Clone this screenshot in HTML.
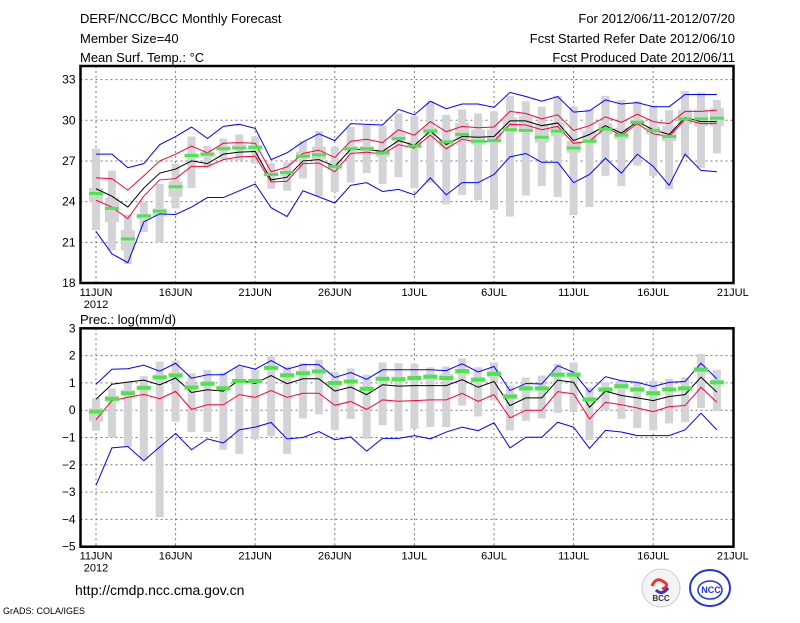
<!DOCTYPE html>
<html><head><meta charset="utf-8"><style>
body{margin:0;background:#fff;}
svg text{font-family:"Liberation Sans",sans-serif;fill:#000;}
</style></head><body>
<svg id="c" width="800" height="618" xmlns="http://www.w3.org/2000/svg">
<rect width="800" height="618" fill="#fff"/>
<text x="80" y="23" font-size="13">DERF/NCC/BCC Monthly Forecast</text>
<text x="80" y="43" font-size="13">Member Size=40</text>
<text x="80" y="62" font-size="13">Mean Surf. Temp.: °C</text>
<text x="735" y="23" font-size="13" text-anchor="end">For 2012/06/11-2012/07/20</text>
<text x="735" y="43" font-size="13" text-anchor="end">Fcst Started Refer Date 2012/06/10</text>
<text x="735" y="62" font-size="13" text-anchor="end">Fcst Produced Date 2012/06/11</text>
<text x="80" y="324" font-size="13">Prec.: log(mm/d)</text>
<text x="75" y="595" font-size="14">http://cmdp.ncc.cma.gov.cn</text>
<text x="3" y="614" font-size="9">GrADS: COLA/IGES</text>
<g>
<circle cx="661" cy="588" r="19" fill="#f4f4f4" stroke="#ccc"/>
<path d="M652 586 q4 -10 12 -4 q6 4 -2 7" stroke="#e33" stroke-width="3" fill="none"/>
<path d="M656 590 q6 6 12 -2" stroke="#33c" stroke-width="3" fill="none"/>
<text x="661" y="601" font-size="8" text-anchor="middle" font-weight="bold" style="fill:#334">BCC</text>
</g>
<g>
<ellipse cx="710" cy="588" rx="20" ry="18" fill="#fff" stroke="#2233dd" stroke-width="2"/>
<ellipse cx="710" cy="590" rx="12" ry="9" fill="none" stroke="#2233dd" stroke-width="1.5"/>
<text x="711" y="593" font-size="9" text-anchor="middle" font-weight="bold" style="fill:#2233dd">NCC</text>
</g>
</svg>
<script>
// ---- temperature panel data (day 0 = 11 Jun)
const tBlueHi=[27.5,27.5,26.5,26.8,28.2,28.8,29.5,28.65,29.55,29.7,29.4,27.1,27.6,28.4,29.0,28.5,29.75,29.7,29.65,30.8,30.4,31.4,30.85,31.2,31.2,30.95,32.05,31.75,31.4,31.75,30.6,30.7,31.5,31.2,31.3,31.0,31.0,31.9,31.9,31.9];
const tRedHi=[25.75,25.7,24.85,25.9,27.0,27.5,28.1,27.6,28.3,28.35,28.3,26.2,26.55,27.55,27.8,27.25,28.45,28.6,28.35,29.3,28.9,29.9,29.15,29.55,29.45,29.5,30.65,30.5,30.1,30.4,29.25,29.6,30.25,29.85,30.45,29.9,29.75,30.65,30.65,30.75];
const tMean=[24.95,24.4,23.6,25.0,26.1,26.4,27.0,26.8,27.5,27.65,27.7,25.6,25.8,27.0,27.1,26.6,27.85,27.85,27.7,28.5,28.15,29.2,28.2,28.8,28.75,28.8,29.95,29.95,29.6,29.8,28.5,28.95,29.6,29.05,29.9,29.3,28.95,30.2,29.9,29.9];
const tRedLo=[24.1,23.6,22.75,24.4,25.6,25.7,26.6,26.6,27.1,27.3,27.35,25.45,25.5,26.8,26.85,26.2,27.55,27.65,27.5,28.2,27.95,28.9,27.9,28.6,28.4,28.45,29.7,29.65,29.3,29.55,28.3,28.45,29.45,28.9,29.75,29.0,28.8,30.05,29.75,29.75];
const tBlueLo=[21.8,20.15,19.5,22.5,23.1,23.05,23.6,24.3,24.3,24.8,25.3,23.55,22.9,24.8,24.35,23.9,25.2,25.4,24.75,24.9,24.5,25.75,24.5,25.4,25.4,26.0,27.3,27.55,26.9,26.9,25.4,26.0,27.2,26.1,27.5,26.6,25.2,27.5,26.3,26.2];
const tBarMax=[27.9,26.3,23.05,24.0,25.3,26.8,28.8,28.1,28.65,28.95,28.8,26.85,26.9,28.45,29.2,28.05,29.5,29.6,29.6,30.5,30.3,31.4,30.4,30.8,30.5,30.65,31.8,31.4,31.0,31.8,31.0,30.8,31.8,31.5,31.4,31.1,30.75,32.15,32.05,31.5];
const tBarMin=[21.9,20.4,19.4,21.75,21.0,23.5,25.0,26.5,27.1,27.05,26.8,24.95,24.8,25.7,24.4,24.7,25.4,26.1,25.3,25.8,25.0,25.4,23.8,24.5,24.1,23.4,22.9,24.45,25.15,24.35,23.0,23.6,25.9,25.15,26.65,25.9,24.9,27.25,26.5,27.55];
const tBoxHi=[25.0,24.3,21.9,23.1,23.5,25.5,27.55,27.65,28.1,28.2,28.15,26.2,26.2,27.7,28.05,26.9,28.1,28.1,27.85,29.1,28.45,29.45,28.6,29.8,29.3,29.3,30.2,30.3,29.7,29.8,28.45,29.2,29.8,29.45,30.05,29.55,29.55,30.8,30.8,30.9];
const tBoxLo=[24.0,22.5,20.4,22.7,22.9,24.35,27.2,27.3,27.8,27.85,27.85,25.9,25.9,27.2,27.1,26.35,27.7,27.7,27.3,28.45,27.95,28.95,28.05,28.6,28.2,28.35,29.25,29.2,28.35,28.8,27.6,28.35,28.95,28.6,29.7,28.95,28.45,29.7,29.55,29.55];
const tObs=[24.6,23.5,21.25,22.95,23.3,25.1,27.4,27.5,27.9,27.95,28.0,26.0,26.15,27.35,27.45,26.6,27.9,27.9,27.6,28.65,28.1,29.2,28.4,28.95,28.45,28.5,29.3,29.25,28.75,29.2,27.95,28.45,29.35,28.9,29.85,29.25,28.8,30.1,30.1,30.15];
// ---- precipitation panel data
const pBlueHi=[0.95,1.5,1.52,1.65,1.43,1.72,1.17,1.3,1.3,1.65,1.5,1.82,1.5,1.67,1.67,1.2,1.38,1.13,1.48,1.48,1.48,1.48,1.45,1.7,1.4,1.6,0.72,0.98,0.96,1.63,1.39,0.66,1.23,1.08,1.02,0.87,1.02,1.05,1.72,1.15];
const pMean=[0.4,0.95,1.03,1.1,0.93,1.18,0.65,0.75,0.7,1.1,0.98,1.27,0.97,1.15,1.15,0.7,0.85,0.57,0.93,0.88,0.9,0.9,0.9,1.12,0.84,1.05,0.17,0.45,0.45,1.1,1.02,0.11,0.7,0.54,0.45,0.35,0.5,0.57,1.21,0.66];
const pRed=[-0.35,0.35,0.47,0.58,0.42,0.69,0.03,0.2,0.2,0.57,0.47,0.72,0.47,0.62,0.62,0.18,0.32,0.03,0.38,0.33,0.35,0.38,0.38,0.62,0.32,0.57,-0.28,0.0,0.0,0.68,0.6,-0.32,0.29,0.2,0.08,-0.05,0.13,0.17,0.84,0.29];
const pBlueLo=[-2.75,-1.38,-1.33,-1.85,-1.35,-0.85,-1.45,-1.05,-1.2,-0.72,-0.62,-0.45,-1.05,-1.0,-0.78,-1.08,-0.98,-1.5,-1.03,-1.03,-0.93,-1.05,-0.8,-0.62,-0.75,-0.46,-1.38,-0.99,-0.99,-0.44,-0.62,-1.4,-0.74,-0.8,-0.93,-0.93,-0.93,-0.72,-0.11,-0.72];
const pBarMax=[0.45,0.8,1.05,1.25,1.78,1.82,1.35,1.47,1.38,1.6,1.47,1.97,1.6,1.72,1.85,1.4,1.53,1.3,1.75,1.72,1.7,1.57,1.6,1.9,1.57,1.75,0.9,1.2,1.27,1.7,1.75,0.84,1.02,1.08,1.02,1.08,1.15,1.2,2.06,1.48];
const pBarMin=[-0.75,-1.0,-1.35,-1.8,-3.92,-0.42,-0.8,-0.8,-1.45,-1.6,-1.07,-0.95,-1.6,-0.3,-0.15,-0.72,-0.32,-1.05,-0.55,-0.77,-0.68,-0.62,-0.62,0.17,-0.23,0.35,-0.74,-0.39,-0.3,-0.1,-0.07,-1.09,0.0,-0.32,-0.65,-0.74,-0.48,-0.44,0.08,-0.04];
const pBoxHi=[0.07,0.52,0.74,0.9,1.3,1.38,0.95,1.05,0.9,1.13,1.13,1.62,1.35,1.45,1.5,1.07,1.13,0.87,1.23,1.23,1.27,1.3,1.33,1.51,1.2,1.43,0.6,0.87,0.87,1.39,1.39,0.48,0.84,0.96,0.84,0.7,0.84,0.87,1.57,1.09];
const pBoxLo=[-0.42,0.33,0.55,0.75,1.13,1.2,0.77,0.9,0.75,0.98,0.98,1.47,1.2,1.3,1.35,0.92,0.98,0.7,1.08,1.08,1.08,1.1,1.1,1.33,1.02,1.2,0.41,0.72,0.72,1.23,1.23,0.33,0.66,0.78,0.66,0.54,0.7,0.7,1.39,0.94];
const pObs=[-0.05,0.42,0.62,0.82,1.2,1.27,0.83,0.97,0.8,1.07,1.07,1.55,1.28,1.35,1.42,1.0,1.05,0.78,1.15,1.13,1.18,1.23,1.18,1.43,1.12,1.33,0.5,0.8,0.8,1.3,1.3,0.39,0.76,0.88,0.76,0.62,0.76,0.8,1.49,1.02];
const xTickLabels=["11JUN","16JUN","21JUN","26JUN","1JUL","6JUL","11JUL","16JUL","21JUL"];
const tTicks=[18,21,24,27,30,33];
const pTicks=[-5,-4,-3,-2,-1,0,1,2,3];

const NS="http://www.w3.org/2000/svg";
const svg=document.getElementById('c');
const L=80.5,R=733.5;
const xs=d=>96+15.92*d;
function mk(tag,at,parent){const e=document.createElementNS(NS,tag);for(const k in at)e.setAttribute(k,at[k]);(parent||svg).appendChild(e);return e;}

function panel(name,top,bot,vmin,vmax,ticks,bands,lines,obsH){
  const ys=v=>bot-(v-vmin)*(bot-top)/(vmax-vmin);
  const g=mk('g',{});
  
  
  // grid
  ticks.forEach(t=>{
    if(t>vmin&&t<vmax){const l=mk('line',{x1:L,x2:R,y1:ys(t),y2:ys(t),stroke:'#777','stroke-dasharray':'2,3','stroke-width':1},g);
    
    }
    const tx=mk('text',{x:L-5,y:ys(t)+4,'font-size':12,'text-anchor':'end'},g);tx.textContent=String(t).replace('-','−');
    
    
  });
  xTickLabels.forEach((s,i)=>{
    const x=xs(i*5);
    if(i<8){const l=mk('line',{x1:x,x2:x,y1:top,y2:bot,stroke:'#777','stroke-dasharray':'2,3','stroke-width':1},g);
    
    }
    const tx=mk('text',{x:x,y:bot+13,'font-size':11,'text-anchor':'middle'},g);tx.textContent=s;
    
    
  });
  const yr=mk('text',{x:xs(0),y:bot+25,'font-size':11,'text-anchor':'middle'},g);yr.textContent='2012';
  
  
  // bars
  for(let d=0;d<bands.mx.length;d++){
    const x=xs(d);
    const b=mk('rect',{x:x-4,y:ys(bands.mx[d]),width:8,height:ys(bands.mn[d])-ys(bands.mx[d]),fill:'#d4d4d8'},g);
    
    
    const bx=mk('rect',{x:x-7,y:ys(bands.bh[d]),width:14,height:ys(bands.bl[d])-ys(bands.bh[d]),fill:'#d4d4d8'},g);
    
    
  }
  lines.forEach(([arr,col,nm])=>{
    const p=mk('polyline',{points:arr.map((v,d)=>xs(d)+','+ys(v)).join(' '),fill:'none',stroke:col,'stroke-width':1},g);
    
    
  });
  bands.ob.forEach((v,d)=>{
    const r=mk('rect',{x:xs(d)-7,y:ys(v)-obsH/2,width:14,height:obsH,fill:'#4ce64c'},g);
    
    
  });
  const f=mk('rect',{x:L,y:top,width:R-L,height:bot-top,fill:'none',stroke:'#000','stroke-width':2.5},g);
  
  
}
panel('temperature-panel',66,283,18,34,tTicks,{mx:tBarMax,mn:tBarMin,bh:tBoxHi,bl:tBoxLo,ob:tObs},
  [[tBlueHi,'#0000ff','temp-upper-blue'],[tBlueLo,'#0000ff','temp-lower-blue'],[tRedHi,'#ff0033','temp-upper-red'],[tRedLo,'#ff0033','temp-lower-red'],[tMean,'#000','temp-ensemble-mean']],3);
panel('precip-panel',328.3,546.7,-5,3,pTicks,{mx:pBarMax,mn:pBarMin,bh:pBoxHi,bl:pBoxLo,ob:pObs},
  [[pBlueHi,'#0000ff','precip-upper-blue'],[pBlueLo,'#0000ff','precip-lower-blue'],[pRed,'#ff0033','precip-red'],[pMean,'#000','precip-ensemble-mean']],4);
</script>
</body></html>
